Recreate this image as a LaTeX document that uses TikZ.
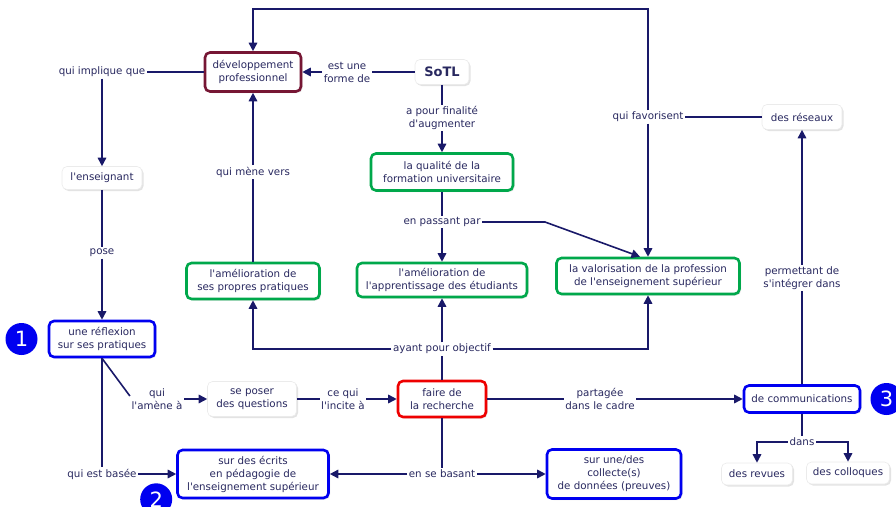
\documentclass[tikz,border=0pt]{standalone}
\usepackage{fontspec}
\setmainfont{DejaVu Sans}[Ligatures=TeXOff]
\usetikzlibrary{arrows.meta,positioning,shadows}
\definecolor{navy}{RGB}{25,25,105}
\definecolor{ink}{RGB}{40,40,95}
\definecolor{boxblue}{RGB}{0,0,240}
\definecolor{boxgreen}{RGB}{0,168,75}
\definecolor{boxred}{RGB}{238,0,0}
\definecolor{boxmaroon}{RGB}{118,22,52}
\tikzset{
    concept/.style = {
        rounded corners=5pt,
        fill = white,
        text = ink,
        align = center,
        inner sep = 2pt,
        font = \fontsize{10.3}{13}\selectfont,
        drop shadow = {shadow xshift=1.5pt, shadow yshift=-1.5pt, fill=black!22},
        },
    plain concept/.style = {
        concept,
        draw = black!8,
        line width = 0.6pt,
        },
    blue concept/.style = {
        concept,
        draw = boxblue,
        line width = 2.6pt,
        },
    green concept/.style = {
        concept,
        draw = boxgreen,
        line width = 2.6pt,
        },
    red concept/.style = {
        concept,
        draw = boxred,
        line width = 2.6pt,
        },
    maroon concept/.style = {
        concept,
        draw = boxmaroon,
        line width = 2.6pt,
        },
    link label/.style = {
        fill = white,
        text = ink,
        align = center,
        inner sep = 1.5pt,
        font = \fontsize{10.3}{13}\selectfont,
        },
    link edge/.style = {
        draw = navy,
        line width = 1.6pt,
        },
    number/.style = {
        circle,
        fill = boxblue,
        text = white,
        minimum size = 32pt,
        inner sep = 0pt,
        font = \fontsize{21}{21}\selectfont,
        },
}
\begin{document}
\begin{tikzpicture}[x=1pt, y=-1pt, >={Triangle[length=8.5pt, width=8.5pt]}]
    \useasboundingbox (0,0) rectangle (896,506);

    \node[maroon concept, minimum width=96pt, minimum height=39pt] (dev) at (253,72) {développement\\professionnel};
    \node[plain concept, font=\fontsize{13}{13}\selectfont\bfseries, minimum width=54pt, minimum height=25pt] (sotl) at (442,72) {SoTL};
    \node[plain concept, minimum width=80pt, minimum height=23pt] (enseignant) at (102,178) {l'enseignant};
    \node[plain concept, minimum width=80pt, minimum height=25pt] (reseaux) at (802,117) {des réseaux};
    \node[green concept, minimum width=142pt, minimum height=37pt] (qualite) at (442,172) {la qualité de la\\formation universitaire};
    \node[green concept, minimum width=133pt, minimum height=36pt] (propres) at (253,281) {l'amélioration de\\ses propres pratiques};
    \node[green concept, minimum width=170pt, minimum height=34pt] (apprentissage) at (442,280) {l'amélioration de\\l'apprentissage des étudiants};
    \node[green concept, minimum width=183pt, minimum height=36pt] (valorisation) at (648,276) {la valorisation de la profession\\de l'enseignement supérieur};
    \node[blue concept, minimum width=106pt, minimum height=36pt] (reflexion) at (102,339) {une réflexion\\sur ses pratiques};
    \node[plain concept, minimum width=89pt, minimum height=35pt] (questions) at (252,399) {se poser\\des questions};
    \node[red concept, minimum width=88pt, minimum height=36pt] (recherche) at (442,399) {faire de\\la recherche};
    \node[blue concept, minimum width=116pt, minimum height=27pt] (communications) at (802,399) {de communications};
    \node[blue concept, minimum width=151pt, minimum height=48pt] (ecrits) at (253,474) {sur des écrits\\en pédagogie de\\l'enseignement supérieur};
    \node[blue concept, minimum width=134pt, minimum height=49pt] (collecte) at (614,474) {sur une/des\\collecte(s)\\de données (preuves)};
    \node[plain concept, minimum width=71pt, minimum height=22pt] (revues) at (757,474) {des revues};
    \node[plain concept, minimum width=83pt, minimum height=22pt] (colloques) at (848,473) {des colloques};

    \node[link label] (implique) at (102,72) {qui implique que};
    \node[link label] (forme) at (347,72) {est une\\forme de};
    \node[link label] (finalite) at (442,118) {a pour finalité\\d'augmenter};
    \node[link label] (favorisent) at (648,117) {qui favorisent};
    \node[link label] (menevers) at (253,172) {qui mène vers};
    \node[link label] (passant) at (442,222) {en passant par};
    \node[link label] (pose) at (102,253) {pose};
    \node[link label] (integrer) at (802,278) {permettant de\\s'intégrer dans};
    \node[link label] (objectif) at (442,349) {ayant pour objectif};
    \node[link label] (amene) at (157,399) {qui\\l'amène à};
    \node[link label] (incite) at (343,399) {ce qui\\l'incite à};
    \node[link label] (partagee) at (600,399) {partagée\\dans le cadre};
    \node[link label] (dans) at (802,442) {dans};
    \node[link label] (basee) at (102,474) {qui est basée};
    \node[link label] (basant) at (442,474) {en se basant};

    \node[number, left=10pt of reflexion] (one) {1};
    \node[number] (two) at ([xshift=-20pt]ecrits.south west) {2};
    \node[number, right=9pt of communications] (three) {3};

    \coordinate (top) at (450,9);
    \coordinate (kink) at (545,222);

    \draw[link edge] (dev) -- (implique);
    \draw[link edge, ->] (implique) -- (enseignant);
    \draw[link edge] (enseignant) -- (pose);
    \draw[link edge, ->] (pose) -- (reflexion);
    \draw[link edge] (sotl) -- (forme);
    \draw[link edge, ->] (forme) -- (dev);
    \draw[link edge] (sotl) -- (finalite);
    \draw[link edge, ->] (finalite) -- (qualite);
    \draw[link edge] (qualite) -- (passant);
    \draw[link edge, ->] (passant) -- (apprentissage);
    \draw[link edge, ->] (passant) -- (kink) -- ([xshift=-8pt]valorisation.north);
    \draw[link edge] (reseaux) -- (favorisent);
    \draw[link edge, ->] (favorisent) |- (top) -| (dev);
    \draw[link edge, ->] (favorisent) -- (valorisation);
    \draw[link edge] (propres) -- (menevers);
    \draw[link edge, ->] (menevers) -- (dev);
    \draw[link edge] (recherche) -- (objectif);
    \draw[link edge, ->] (objectif) -- (apprentissage);
    \draw[link edge, ->] (objectif) -| (propres);
    \draw[link edge, ->] (objectif) -| (valorisation);
    \draw[link edge] (reflexion.south) -- ([yshift=3pt]amene.west);
    \draw[link edge, ->] (amene) -- (questions);
    \draw[link edge] (questions) -- (incite);
    \draw[link edge, ->] (incite) -- (recherche);
    \draw[link edge] (recherche) -- (partagee);
    \draw[link edge, ->] (partagee) -- (communications);
    \draw[link edge] (communications) -- (integrer);
    \draw[link edge, ->] (integrer) -- (reseaux);
    \draw[link edge] (communications) -- (dans);
    \draw[link edge, ->] (dans) -| (revues);
    \draw[link edge, ->] (dans) -| (colloques);
    \draw[link edge] (reflexion) -- (basee);
    \draw[link edge, ->] (basee) -- (ecrits);
    \draw[link edge] (recherche) -- (basant);
    \draw[link edge, ->] (basant) -- (ecrits);
    \draw[link edge, ->] (basant) -- (collecte);
\end{tikzpicture}
\end{document}
